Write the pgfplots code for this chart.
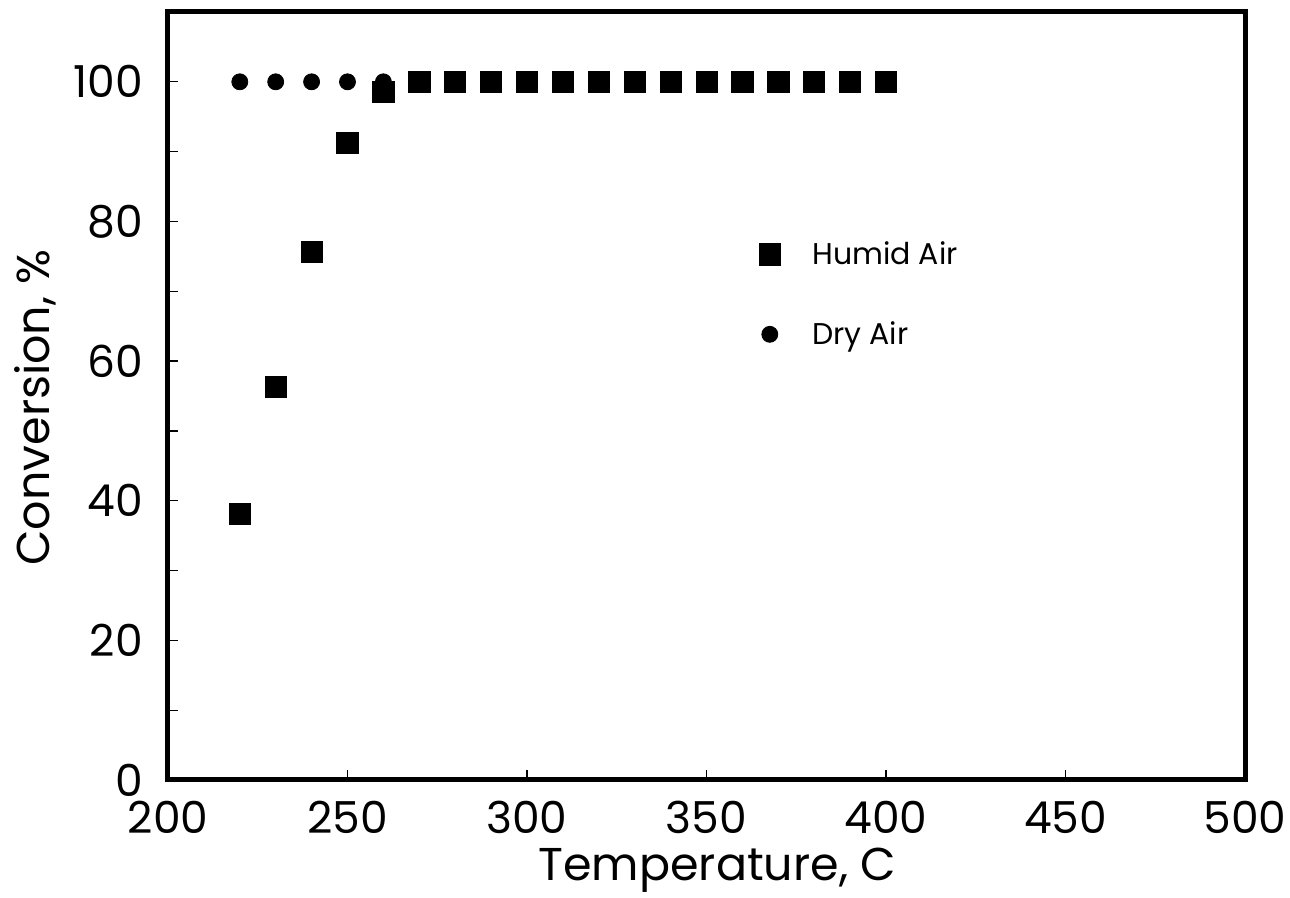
\documentclass[border=0pt]{standalone}
\usepackage{fontspec}
\setmainfont{Poppins}
\usepackage{pgfplots}
\pgfplotsset{compat=1.18}
\begin{document}
\begin{tikzpicture}
\useasboundingbox (-84pt,-59pt) rectangle (561pt,390pt);
\begin{axis}[
  at={(0,0)}, anchor=south west,
  scale only axis,
  width=538.5pt, height=384pt,
  xmin=200, xmax=500, ymin=0, ymax=110,
  xtick={200,250,...,500},
  ytick={0,20,...,100},
  minor ytick={10,30,...,90},
  tick align=inside,
  major tick length=5pt, minor tick length=5pt,
  tick style={black, line width=0.6pt},
  xtick pos=bottom, ytick pos=left,
  axis line style={line width=2.5pt},
  /pgf/number format/assume math mode=true,
  tick label style={font=\fontsize{22}{26}\selectfont},
  xticklabel style={yshift=-7pt},
  yticklabel style={xshift=-9pt, text depth=0pt},
  xlabel={Temperature, C},
  ylabel={Conversion, \%},
  label style={font=\fontsize{23}{27}\selectfont},
  xlabel style={at={(axis description cs:0.51,-0.131)}, anchor=base},
  ylabel style={at={(axis description cs:-0.11,0.485)}, anchor=base},
  legend style={at={(rel axis cs:0.543,0.712)}, anchor=north west, draw=none, fill=none,
    font=\fontsize{15}{18}\selectfont, row sep=23pt, column sep=14pt},
  legend cell align=left,
  clip=false,
]
\addplot[only marks, mark=square*, mark size=5.3pt, black] coordinates {
(220,38.1) (230,56.3) (240,75.6) (250,91.3) (260,98.6) (270,100) (280,100) (290,100)
(300,100) (310,100) (320,100) (330,100) (340,100) (350,100) (360,100) (370,100)
(380,100) (390,100) (400,100)
};
\addlegendentry{Humid Air}
\addplot[only marks, mark=*, mark size=4pt, black] coordinates {
(220,100) (230,100) (240,100) (250,100) (260,100)
};
\addlegendentry{Dry Air}
\end{axis}
\end{tikzpicture}
\end{document}
